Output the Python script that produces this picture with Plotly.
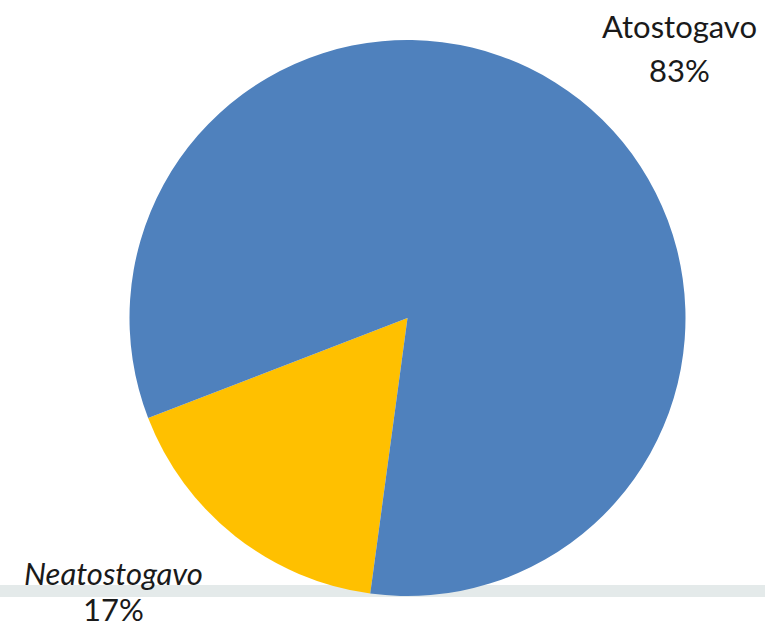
import plotly.graph_objects as go

labels = ["Neatostogavo", "Atostogavo"]
values = [17, 83]
colors = ["#FFC000", "#4F81BD"]

W, H = 765, 627
cx, cy, r = 407.5, 318, 278

fig = go.Figure(
    go.Pie(
        labels=labels,
        values=values,
        sort=False,
        direction="clockwise",
        rotation=187.7,
        marker=dict(colors=colors, line=dict(width=0)),
        textinfo="none",
        hoverinfo="label+percent",
        domain=dict(
            x=[(cx - r) / W, (cx + r) / W],
            y=[(H - cy - r) / H, (H - cy + r) / H],
        ),
    )
)

# faint horizontal band near the bottom of the scan
fig.add_shape(
    type="rect", xref="paper", yref="paper",
    x0=0, x1=1, y0=(H - 597) / H, y1=(H - 585) / H,
    fillcolor="#E4EAEA", line=dict(width=0), layer="below",
)

font = dict(family="Lato, Open Sans, sans-serif", size=31, color="#1a1a1a")
pct = [f"{v}%" for v in values]
label_pos = {"Atostogavo": (679, 26, 70), "Neatostogavo": (113, 573, 609)}
for name, p in zip(labels, pct):
    x, y1, y2 = label_pos[name]
    text = f"<i>{name}</i>" if name == "Neatostogavo" else name
    for t, yy in ((text, y1), (p, y2)):
        fig.add_annotation(
            x=x / W, y=(H - yy) / H, xref="paper", yref="paper",
            text=t, showarrow=False, font=font,
            xanchor="center", yanchor="middle",
        )

fig.update_layout(
    width=W, height=H,
    margin=dict(l=0, r=0, t=0, b=0),
    paper_bgcolor="white", plot_bgcolor="white",
    showlegend=False,
)

# drop the page's default body margin so the figure sits at the window's corner
fig.write_html(
    "out.html",
    config={"displayModeBar": False},
    post_script="document.body.style.margin='0';",
)
